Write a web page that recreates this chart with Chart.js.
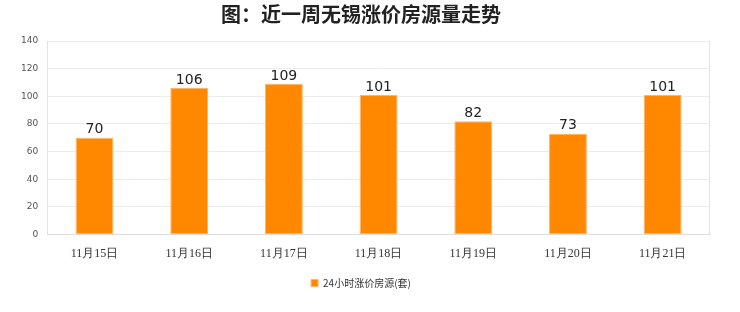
<!DOCTYPE html>
<html>
<head>
<meta charset="utf-8">
<script src="https://cdn.jsdelivr.net/npm/chart.js@4/dist/chart.umd.min.js"></script>
<style>
  html, body { margin: 0; padding: 0; background: #fff; }
  #wrap { width: 740px; height: 312px; }
</style>
</head>
<body>
<div id="wrap"><canvas id="c" width="740" height="312"></canvas></div>
<script>
// categories and values
const days = ["11月15日", "11月16日", "11月17日", "11月18日", "11月19日", "11月20日", "11月21日"];
const risingListings = [70, 106, 109, 101, 82, 73, 101];
const yTicks = [0, 20, 40, 60, 80, 100, 120, 140];

// value labels over each bar + light frame around the plot
const barLabels = {
    id: "barLabels",
    afterDatasetsDraw(chart) {
        const ctx = chart.ctx;
        const a = chart.chartArea;
        ctx.save();
        ctx.strokeStyle = "#e3e3e3";
        ctx.lineWidth = 1;
        ctx.beginPath();
        ctx.moveTo(Math.round(a.left) + 0.5, a.top);
        ctx.lineTo(Math.round(a.left) + 0.5, a.bottom);
        ctx.moveTo(Math.round(a.right) - 0.5, a.top);
        ctx.lineTo(Math.round(a.right) - 0.5, a.bottom);
        ctx.stroke();
        ctx.font = "14px 'DejaVu Sans', sans-serif";
        ctx.fillStyle = "#222";
        ctx.textAlign = "center";
        ctx.textBaseline = "bottom";
        chart.getDatasetMeta(0).data.forEach((bar, i) => {
            ctx.fillText(risingListings[i], bar.x, bar.y - 1);
        });
        ctx.restore();
    }
};

new Chart(document.getElementById("c"), {
    type: "bar",
    data: {
        labels: days,
        datasets: [{
            label: "24小时涨价房源(套)",
            data: risingListings,
            backgroundColor: "#ff8800",
            borderColor: "#ffb366",
            borderWidth: 1,
            borderSkipped: false,
            categoryPercentage: 1,
            barPercentage: 0.4
        }]
    },
    options: {
        responsive: false,
        animation: false,
        layout: {padding: {left: 12, right: 30, top: 0, bottom: 14}},
        plugins: {
            title: {
                display: true,
                text: "图：近一周无锡涨价房源量走势",
                color: "#222",
                font: {size: 20, weight: "bold", family: "'Noto Sans CJK SC', sans-serif"},
                padding: {top: 2, bottom: 15}
            },
            legend: {
                position: "bottom",
                labels: {
                    boxWidth: 7, boxHeight: 7,
                    color: "#333",
                    font: {size: 10, family: "'Noto Sans CJK SC', sans-serif"},
                    padding: 13
                }
            },
            tooltip: {enabled: false}
        },
        scales: {
            x: {
                grid: {display: false},
                border: {color: "#dddddd"},
                ticks: {color: "#333", font: {size: 12, family: "'Liberation Serif', serif"}, padding: 4}
            },
            y: {
                min: 0, max: 140,
                afterBuildTicks(axis) { axis.ticks = yTicks.map(v => ({value: v})); },
                grid: {color: "#ececec", drawTicks: false},
                border: {display: false},
                ticks: {color: "#555", font: {size: 9, family: "'DejaVu Sans', sans-serif"}, padding: 9}
            }
        }
    },
    plugins: [barLabels]
});
</script>
</body>
</html>
